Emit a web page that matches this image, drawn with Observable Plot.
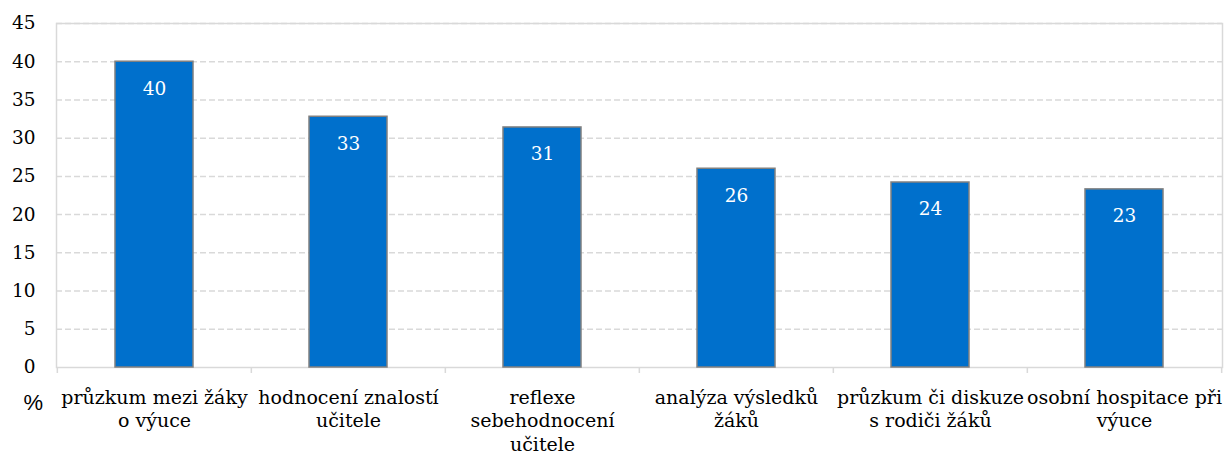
<!DOCTYPE html>
<html><head><meta charset="utf-8">
<script src="https://cdn.jsdelivr.net/npm/d3@7"></script>
<script src="https://cdn.jsdelivr.net/npm/@observablehq/plot@0.6"></script>
<style>
body{margin:0;background:#fff}
svg{display:block}
</style>
</head><body><div id="chart"></div>
<script>
const categories = [
  "průzkum mezi žáky\no výuce",
  "hodnocení znalostí\nučitele",
  "reflexe\nsebehodnocení\nučitele",
  "analýza výsledků\nžáků",
  "průzkum či diskuze\ns rodiči žáků",
  "osobní hospitace při\nvýuce"
];
const values = [40.0, 32.8, 31.4, 26.0, 24.2, 23.3];
const valueLabels = ["40", "33", "31", "26", "24", "23"];
const yTicks = [0, 5, 10, 15, 20, 25, 30, 35, 40, 45];
const unitLabel = ["%"];

const data = categories.map((c, i) => ({category: c, value: values[i], label: valueLabels[i]}));

const W = 1225, H = 458, mL = 56, mR = 3, mT = 23, mB = 91;
const step = (W - mL - mR) / categories.length;
const serif = "DejaVu Serif";

const plot = Plot.plot({
  width: W, height: H,
  marginLeft: mL, marginRight: mR, marginTop: mT, marginBottom: mB,
  style: {fontSize: "19px", color: "#000", background: "#fff", fontFamily: serif},
  x: {domain: categories, paddingInner: 0.6, paddingOuter: 0.3, label: null},
  y: {domain: [0, 45], ticks: yTicks, label: null},
  marks: [
    Plot.ruleY(yTicks.filter(t => t > 0), {stroke: "#d9d9d9", strokeWidth: 1.5, strokeDasharray: "6,3"}),
    Plot.frame({stroke: "#d9d9d9", strokeWidth: 1.5}),
    Plot.ruleX(categories, {x: d => d, y1: 0, y2: 0, insetBottom: -6, dx: -step / 2, stroke: "#d9d9d9", strokeWidth: 1.5}),
    Plot.ruleX([categories[categories.length - 1]], {x: d => d, y1: 0, y2: 0, insetBottom: -6, dx: step / 2, stroke: "#d9d9d9", strokeWidth: 1.5}),
    Plot.barY(data, {x: "category", y: "value", fill: "#0070CC", stroke: "#808080", strokeWidth: 1.5}),
    Plot.text(data, {x: "category", y: "value", text: "label", dy: 27, fill: "#fff", fontSize: 18.5, fontFamily: serif}),
    Plot.axisY({ticks: yTicks, tickSize: 0, tickPadding: 21, fontSize: 18.5, fill: "#000", fontFamily: serif}),
    Plot.axisX({tickSize: 0, tickPadding: 19, fontSize: 19, fill: "#000", lineHeight: 1.26, tickFormat: d => d, fontFamily: serif}),
    Plot.text(unitLabel, {frameAnchor: "bottom-left", dx: -33, dy: 42, text: d => d, fontSize: 22, fill: "#000", fontFamily: "Liberation Sans"})
  ]
});
document.getElementById("chart").append(plot);
</script>
</body></html>
